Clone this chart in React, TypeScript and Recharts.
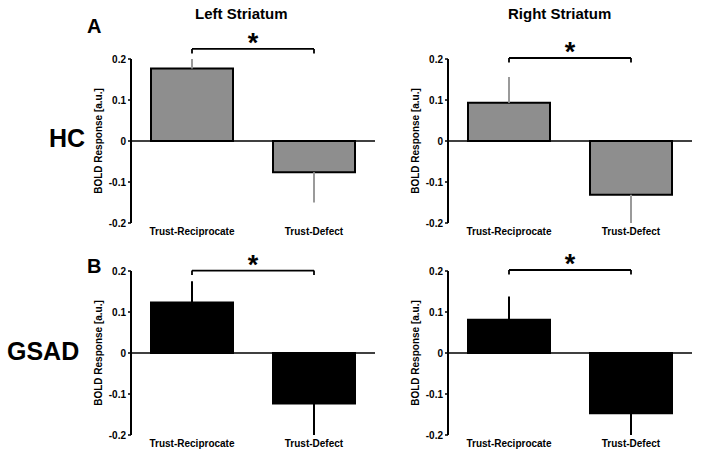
import {
  BarChart,
  Bar,
  XAxis,
  YAxis,
  ErrorBar,
  ReferenceLine,
} from "recharts";

const categories = ["Trust-Reciprocate", "Trust-Defect"];
const yTicks = [-0.2, -0.1, 0, 0.1, 0.2];

// HC group
const hcLeftValues = [0.177, -0.076];
const hcLeftErrors = [0.023, 0.074];
const hcRightValues = [0.093, -0.131];
const hcRightErrors = [0.063, 0.069];

// GSAD group
const gsadLeftValues = [0.123, -0.123];
const gsadLeftErrors = [0.052, 0.077];
const gsadRightValues = [0.081, -0.147];
const gsadRightErrors = [0.057, 0.053];

// height of the significance bracket per panel
const bracketLevels = [0.2245, 0.2025, 0.201, 0.2025];

const FONT = '"Liberation Sans", Arial, Helvetica, sans-serif';

function buildRows(values: number[], errors: number[]) {
  return categories.map((name, i) => ({
    name,
    value: values[i],
    // one-sided error bars, drawn away from zero
    err: values[i] >= 0 ? [0, errors[i]] : [errors[i], 0],
  }));
}

interface PanelProps {
  values: number[];
  errors: number[];
  bracket: number;
  fill: string;
  errColor: string;
  left: number;
  top: number;
}

function Panel({ values, errors, bracket, fill, errColor, left, top }: PanelProps) {
  const data = buildRows(values, errors);
  const tickDrop = 0.011;
  return (
    <div style={{ position: "absolute", left, top }}>
      <BarChart
        width={330}
        height={246}
        data={data}
        margin={{ top: 59, right: 10, left: 36, bottom: 3 }}
      >
        <XAxis
          dataKey="name"
          axisLine={false}
          tickLine={false}
          tickSize={3}
          tickMargin={2}
          height={20}
          interval={0}
          tick={{ fill: "#000", fontSize: 10, fontWeight: "bold", fontFamily: FONT }}
        />
        <YAxis
          domain={[-0.2, 0.2]}
          ticks={yTicks}
          allowDataOverflow
          width={40}
          tickSize={3}
          tickMargin={2}
          axisLine={{ stroke: "#000", strokeWidth: 2 }}
          tickLine={{ stroke: "#000", strokeWidth: 1.5 }}
          tick={{ fill: "#000", fontSize: 10, fontWeight: "bold", fontFamily: FONT }}
          label={{
            value: "BOLD Response [a.u.]",
            angle: -90,
            position: "insideLeft",
            offset: 7,
            style: {
              textAnchor: "middle",
              fontSize: 10,
              fontWeight: "bold",
              fontFamily: FONT,
              fill: "#000",
            },
          }}
        />
        <Bar
          dataKey="value"
          fill={fill}
          stroke="#000"
          strokeWidth={2}
          barSize={82}
          isAnimationActive={false}
        >
          <ErrorBar
            dataKey="err"
            direction="y"
            width={0}
            stroke={errColor}
            strokeWidth={2}
          />
        </Bar>
        <ReferenceLine y={0} stroke="#000" strokeWidth={1.5} />
        <ReferenceLine
          ifOverflow="visible"
          stroke="#000"
          strokeWidth={1.8}
          segment={[
            { x: categories[0], y: bracket },
            { x: categories[1], y: bracket },
          ]}
          label={{
            value: "*",
            position: "top",
            offset: -3,
            style: { fontSize: 27, fontWeight: "bold", fontFamily: FONT, fill: "#000" },
          }}
        />
        <ReferenceLine
          ifOverflow="visible"
          stroke="#000"
          strokeWidth={1.8}
          segment={[
            { x: categories[0], y: bracket },
            { x: categories[0], y: bracket - tickDrop },
          ]}
        />
        <ReferenceLine
          ifOverflow="visible"
          stroke="#000"
          strokeWidth={1.8}
          segment={[
            { x: categories[1], y: bracket },
            { x: categories[1], y: bracket - tickDrop },
          ]}
        />
      </BarChart>
    </div>
  );
}

export default function App() {
  const textStyle = { fontFamily: FONT, fontWeight: "bold" as const, fill: "#000" };
  return (
    <div
      style={{
        position: "absolute",
        left: 0,
        top: 0,
        width: 701,
        height: 457,
        overflow: "hidden",
        background: "#fff",
      }}
    >
      <svg width={701} height={457} style={{ position: "absolute", left: 0, top: 0 }}>
        <text x={195} y={19} fontSize={15} {...textStyle}>Left Striatum</text>
        <text x={508} y={19} fontSize={15} {...textStyle}>Right Striatum</text>
        <text x={87} y={33} fontSize={20} {...textStyle}>A</text>
        <text x={87} y={273} fontSize={20} {...textStyle}>B</text>
        <text x={49} y={147} fontSize={25} {...textStyle}>HC</text>
        <text x={7} y={360} fontSize={25} {...textStyle}>GSAD</text>
      </svg>
      <Panel values={hcLeftValues} errors={hcLeftErrors} bracket={bracketLevels[0]}
        fill="#8e8e8e" errColor="#9a9a9a" left={55} top={0} />
      <Panel values={hcRightValues} errors={hcRightErrors} bracket={bracketLevels[1]}
        fill="#8e8e8e" errColor="#9a9a9a" left={372} top={0} />
      <Panel values={gsadLeftValues} errors={gsadLeftErrors} bracket={bracketLevels[2]}
        fill="#000" errColor="#000" left={55} top={212} />
      <Panel values={gsadRightValues} errors={gsadRightErrors} bracket={bracketLevels[3]}
        fill="#000" errColor="#000" left={372} top={212} />
    </div>
  );
}
